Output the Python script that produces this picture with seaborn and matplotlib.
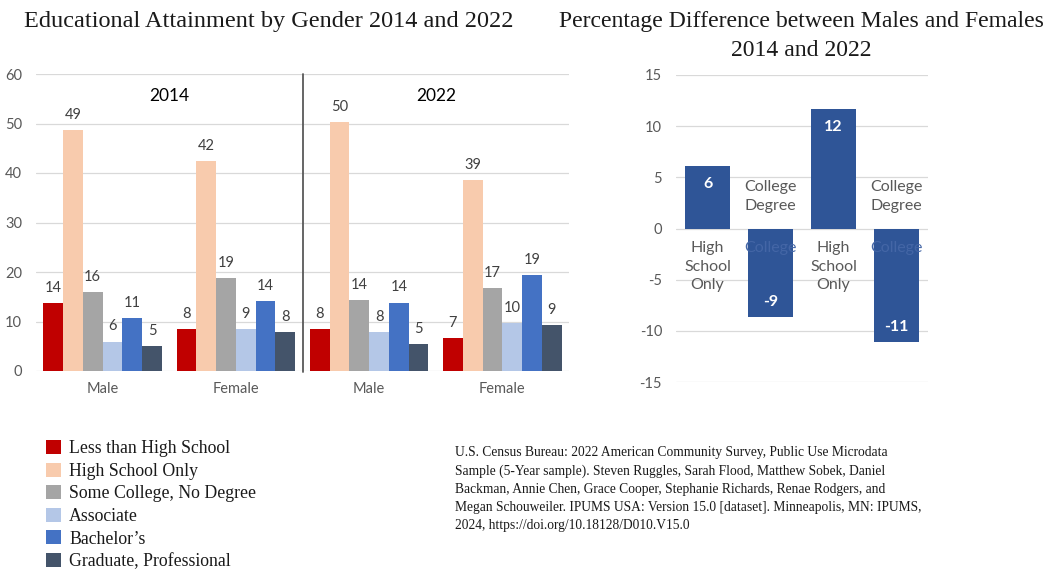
import matplotlib
matplotlib.use("Agg")
import matplotlib.pyplot as plt
import seaborn as sns
import pandas as pd
import numpy as np

# ---------------- data ----------------
levels = ["Less than High School", "High School Only", "Some College, No Degree",
          "Associate", "Bachelor\u2019s", "Graduate, Professional"]
groups = ["2014 Male", "2014 Female", "2022 Male", "2022 Female"]
group_labels = ["Male", "Female", "Male", "Female"]
m2014 = [13.7, 48.6, 15.9, 5.9, 10.7, 5.0]
f2014 = [8.4, 42.4, 18.7, 8.5, 14.1, 7.8]
m2022 = [8.4, 50.3, 14.3, 7.8, 13.8, 5.4]
f2022 = [6.7, 38.6, 16.7, 9.7, 19.3, 9.3]
palette = ["#C00000", "#F8CBAD", "#A5A5A5", "#B4C7E7", "#4472C4", "#44546A"]

diff_keys = ["HS 2014", "College 2014", "HS 2022", "College 2022"]
diff_vals = [6.1, -8.6, 11.7, -11.1]
diff_labels = ["High\nSchool\nOnly", "College\nDegree", "High\nSchool\nOnly", "College\nDegree"]

source = ("U.S. Census Bureau: 2022 American Community Survey, Public Use Microdata\n"
          "Sample (5-Year sample). Steven Ruggles, Sarah Flood, Matthew Sobek, Daniel\n"
          "Backman, Annie Chen, Grace Cooper, Stephanie Richards, Renae Rodgers, and\n"
          "Megan Schouweiler. IPUMS USA: Version 15.0 [dataset]. Minneapolis, MN: IPUMS,\n"
          "2024, https://doi.org/10.18128/D010.V15.0")

rows = []
for g, vals in zip(groups, [m2014, f2014, m2022, f2022]):
    for lev, v in zip(levels, vals):
        rows.append({"group": g, "level": lev, "value": v})
df = pd.DataFrame(rows)
ddf = pd.DataFrame({"key": diff_keys, "value": diff_vals})

# ---------------- style ----------------
sns.set_theme(style="white")
plt.rcParams["font.family"] = ["Lato", "DejaVu Sans"]
plt.rcParams["axes.unicode_minus"] = False
SERIF = "Liberation Serif"
GREY = "#595959"
GRID = "#D9D9D9"
TXT = "#1a1a1a"

W, H = 1052, 569
fig = plt.figure(figsize=(W / 100, H / 100), dpi=100)

def box(x0, y0, x1, y1):
    return [x0 / W, 1 - y1 / H, (x1 - x0) / W, (y1 - y0) / H]

# ---------------- left chart ----------------
ax = fig.add_axes(box(36, 74, 569, 371))
sns.barplot(data=df, x="group", y="value", hue="level", order=groups,
            hue_order=levels, palette=palette, width=0.89, ax=ax,
            saturation=1, edgecolor="none", linewidth=0)
ax.set_ylim(0, 60)
ax.set_yticks(range(0, 61, 10))
ax.set_xlim(-0.5, 3.5)
ax.set_xticks(range(4))
ax.set_xticklabels(group_labels)
ax.set_xlabel("")
ax.set_ylabel("")
ax.yaxis.grid(True, color=GRID, linewidth=0.9)
ax.set_axisbelow(True)
for s in ax.spines.values():
    s.set_visible(False)
ax.tick_params(axis="both", length=0, colors=GREY, labelsize=10.5)
ax.tick_params(axis="y", pad=10)
ax.tick_params(axis="x", pad=8)
for cont in ax.containers:
    labs = [f"{int(np.floor(b.get_height() + 0.5))}" for b in cont]
    ax.bar_label(cont, labels=labs, padding=6, color="#404040", fontsize=10.5)
handles, labels_ = ax.get_legend_handles_labels()
ax.get_legend().remove()
ax.axvline(1.5, ymin=-0.005, ymax=1, color="#595959", linewidth=1.3, clip_on=False)
ax.text(0.5, 55.5, "2014", ha="center", va="center", fontsize=12.5, color="black")
ax.text(2.5, 55.5, "2022", ha="center", va="center", fontsize=12.5, color="black")

fig.text(269 / W, 1 - 22 / H, "Educational Attainment by Gender 2014 and 2022",
         ha="center", va="center", fontsize=17.5, family=SERIF, color=TXT)

leg = fig.legend(handles, labels_, loc="upper left",
                 bbox_to_anchor=(46 / W, 1 - 440 / H), frameon=False,
                 prop={"family": SERIF, "size": 12.8}, handlelength=0.85,
                 handleheight=0.85, handletextpad=0.45, labelspacing=0.3,
                 borderpad=0, borderaxespad=0)
for t in leg.get_texts():
    t.set_color(TXT)

fig.text(455 / W, 1 - 446 / H, source, ha="left", va="top", fontsize=9.75,
         family=SERIF, color=TXT, linespacing=1.5)

# ---------------- right chart ----------------
BLUE = "#2F5597"
ax2 = fig.add_axes(box(676, 75, 928, 382))
sns.barplot(data=ddf, x="key", y="value", order=diff_keys, color=BLUE,
            saturation=1, width=0.73, ax=ax2, edgecolor="none", linewidth=0)
ax2.set_ylim(-15, 15)
ax2.set_yticks(range(-15, 16, 5))
ax2.set_xlim(-0.5, 3.5)
ax2.set_xticks([])
ax2.set_xlabel("")
ax2.set_ylabel("")
ax2.yaxis.grid(True, color=GRID, linewidth=0.9)
ax2.set_axisbelow(True)
for s in ax2.spines.values():
    s.set_visible(False)
ax2.tick_params(axis="both", length=0, colors=GREY, labelsize=10.5)
ax2.tick_params(axis="y", pad=10)
for cont in ax2.containers:
    for b in cont:
        h = b.get_height()
        lab = f"{int(np.floor(abs(h) + 0.5)) * int(np.sign(h))}"
        off = -18 if h >= 0 else 15
        ax2.annotate(lab, (b.get_x() + b.get_width() / 2, h), xytext=(0, off),
                     textcoords="offset pixels", ha="center", va="center",
                     color="white", fontsize=11.5, fontweight="bold")
for i, (v, lab) in enumerate(zip(diff_vals, diff_labels)):
    if v >= 0:
        ax2.text(i, -1.25, lab, ha="center", va="top", fontsize=11.5, color=GREY,
                 linespacing=1.4)
    else:
        ax2.text(i, 1.55, lab, ha="center", va="bottom", fontsize=11.5, color=GREY,
                 linespacing=1.4)
        ax2.text(i, -1.25, lab.split("\n")[0], ha="center", va="top", fontsize=11.5,
                 color="#4466a6", linespacing=1.4)

fig.text(801 / W, 1 - 22 / H, "Percentage Difference between Males and Females",
         ha="center", va="center", fontsize=17.1, family=SERIF, color=TXT)
fig.text(801 / W, 1 - 50 / H, "2014 and 2022",
         ha="center", va="center", fontsize=17.1, family=SERIF, color=TXT)

fig.savefig("out.png", dpi=100)
